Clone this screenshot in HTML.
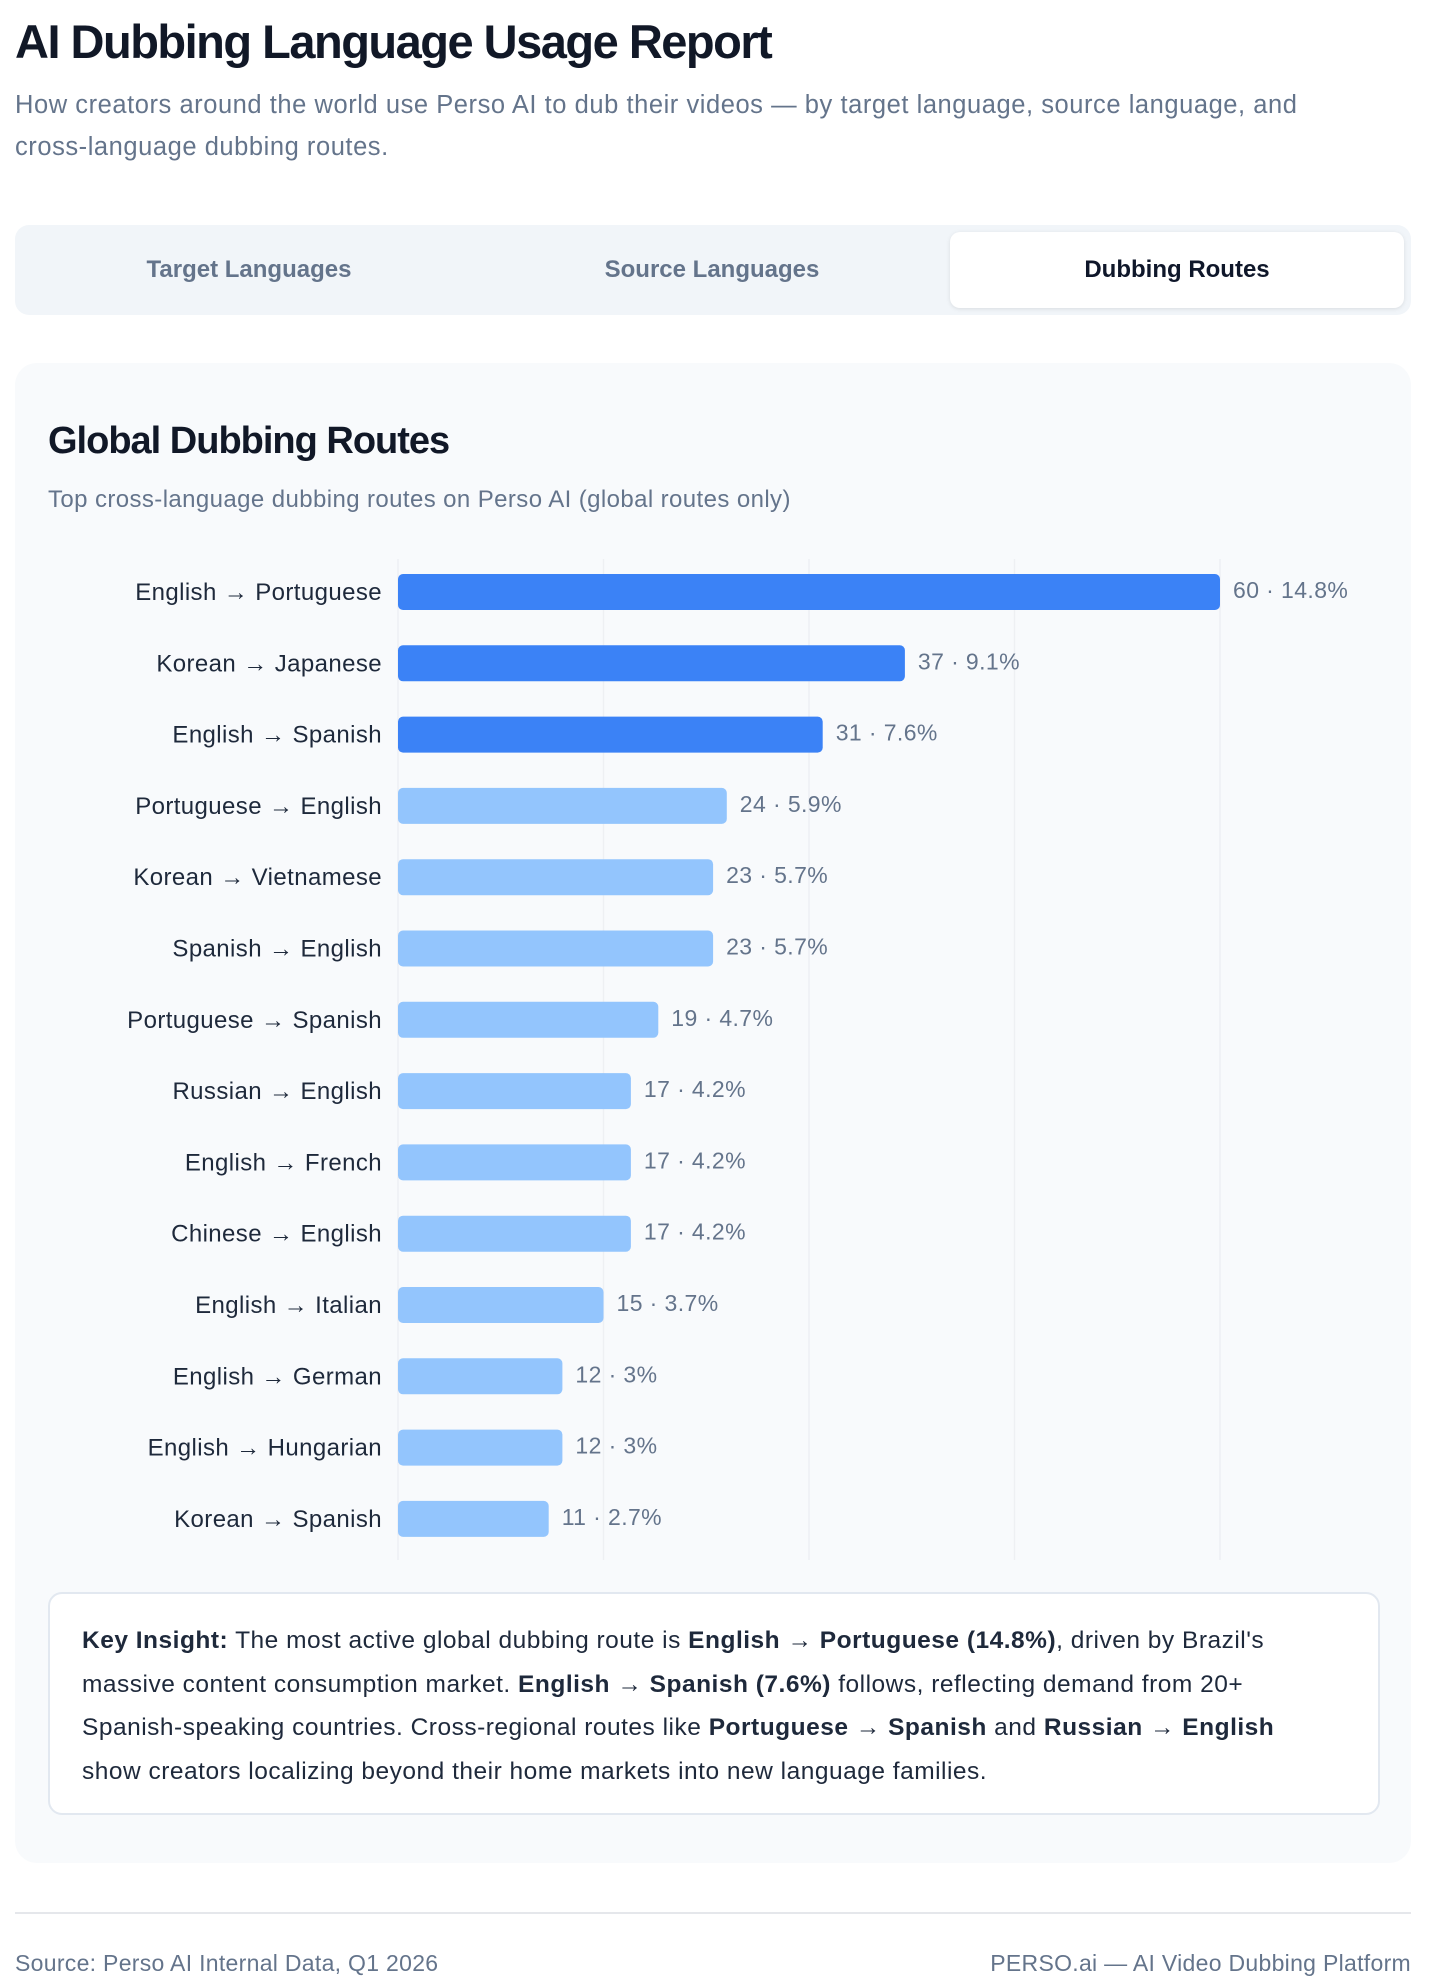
<!DOCTYPE html>
<html><head><meta charset="utf-8"><style>
*{box-sizing:border-box;margin:0;padding:0}
body{width:1432px;height:1988px;background:#fff;font-family:"Liberation Sans",sans-serif;color:#0f172a;position:relative;overflow:hidden}
.abs{position:absolute}
h1{position:absolute;left:15px;top:14px;font-size:47px;font-weight:bold;letter-spacing:-1.5px;color:#111827}
.sub{left:15px;top:84px;width:1410px;font-size:25.5px;letter-spacing:0.55px;line-height:42px;color:#64748b;white-space:nowrap}
.tabs{left:15px;top:225px;width:1396px;height:90px;background:#f1f5f9;border-radius:14px}
.tab{position:absolute;top:7px;height:76px;width:454px;font-size:24px;font-weight:bold;color:#64748b;display:flex;align-items:center;justify-content:center;border-radius:10px}
.card{left:15px;top:363px;width:1396px;height:1500px;background:#f8fafc;border-radius:22px}
.insight{left:48px;top:1592px;width:1332px;height:223px;background:#fff;border:2px solid #e2e8f0;border-radius:14px;padding:25px 32px;font-size:24.5px;letter-spacing:0.5px;line-height:43.5px;color:#1e293b;white-space:nowrap}
</style></head><body>
<h1>AI Dubbing Language Usage Report</h1>
<div class="abs sub">How creators around the world use Perso AI to dub their videos — by target language, source language, and<br>cross-language dubbing routes.</div>
<div class="abs tabs">
<div class="tab" style="left:7px">Target Languages</div>
<div class="tab" style="left:470px">Source Languages</div>
<div class="tab" style="left:935px;background:#fff;color:#0f172a;box-shadow:0 1px 4px rgba(0,0,0,.1)">Dubbing Routes</div>
</div>
<div class="abs card"></div>
<div class="abs" style="left:48px;top:420px;font-size:38px;font-weight:bold;letter-spacing:-1px;color:#111827">Global Dubbing Routes</div>
<div class="abs" style="left:48px;top:486px;font-size:24px;letter-spacing:0.4px;color:#64748b">Top cross-language dubbing routes on Perso AI (global routes only)</div>
<svg class="abs" style="left:0;top:0" width="1432" height="1988"><g id="g"></g></svg>
<div class="abs insight"><b>Key Insight:</b> The most active global dubbing route is <b>English → Portuguese (14.8%)</b>, driven by Brazil's<br>massive content consumption market. <b>English → Spanish (7.6%)</b> follows, reflecting demand from 20+<br>Spanish-speaking countries. Cross-regional routes like <b>Portuguese → Spanish</b> and <b>Russian → English</b><br>show creators localizing beyond their home markets into new language families.</div>
<div class="abs" style="left:15px;top:1912px;width:1396px;height:2px;background:#e5e7eb"></div>
<div class="abs" style="left:15px;top:1950px;font-size:23px;letter-spacing:0.3px;color:#64748b">Source: Perso AI Internal Data, Q1 2026</div>
<div class="abs" style="left:975px;top:1950px;width:436px;text-align:right;font-size:23px;letter-spacing:0.3px;color:#64748b">PERSO.ai — AI Video Dubbing Platform</div>
<script>
const categories=["English → Portuguese","Korean → Japanese","English → Spanish","Portuguese → English","Korean → Vietnamese","Spanish → English","Portuguese → Spanish","Russian → English","English → French","Chinese → English","English → Italian","English → German","English → Hungarian","Korean → Spanish"];
const values=[60,37,31,24,23,23,19,17,17,17,15,12,12,11];
const percents=["14.8%","9.1%","7.6%","5.9%","5.7%","5.7%","4.7%","4.2%","4.2%","4.2%","3.7%","3%","3%","2.7%"];
const ticks=[0,15,30,45,60];
const NS="http://www.w3.org/2000/svg";
const g=document.getElementById('g');
const x0=398,x1=1220,vmax=60,y0=592,step=71.3,bh=36;
const xs=v=>x0+(x1-x0)*v/vmax;
const ys=i=>y0+i*step;
function mk(t,a){const e=document.createElementNS(NS,t);for(const k in a)e.setAttribute(k,a[k]);g.appendChild(e);return e;}
ticks.forEach(t=>{
const l=mk('line',{x1:xs(t),x2:xs(t),y1:559,y2:1560,stroke:'#eef0f3','stroke-width':1.5});


});
categories.forEach((c,i)=>{
const y=ys(i);
const r=mk('rect',{x:x0,y:y-bh/2,width:xs(values[i])-x0,height:bh,rx:5,fill:i<3?'#3b82f6':'#93c5fd'});


const t=mk('text',{x:382,y:y+8,'text-anchor':'end','font-size':24,'letter-spacing':0.4,fill:'#1e293b','font-family':'Liberation Sans, sans-serif'});
t.textContent=c;


const v=mk('text',{x:xs(values[i])+13,y:y+6,'font-size':23,'letter-spacing':0.4,fill:'#64748b','font-family':'Liberation Sans, sans-serif'});
v.textContent=values[i]+' · '+percents[i];


});
</script>
</body></html>
